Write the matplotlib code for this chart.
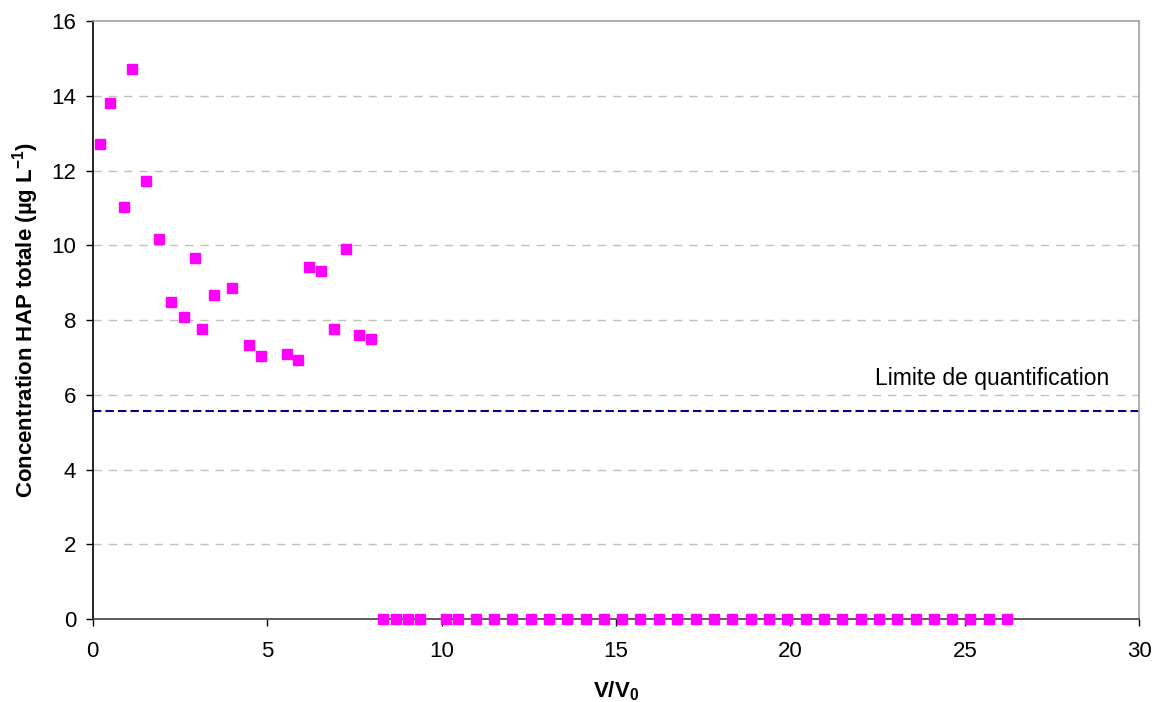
import matplotlib
matplotlib.use("Agg")
import matplotlib.pyplot as plt

plt.rcParams['font.family'] = ['Liberation Sans', 'DejaVu Sans']
plt.rcParams['mathtext.fontset'] = 'custom'
plt.rcParams['mathtext.rm'] = 'Liberation Sans'
plt.rcParams['mathtext.bf'] = 'Liberation Sans:bold'
plt.rcParams['mathtext.it'] = 'Liberation Sans:italic'

# Data
v_ratio = [0.20, 0.50, 0.89, 1.135, 1.54, 1.90, 2.25, 2.61, 2.94, 3.13, 3.48, 3.99,
           4.49, 4.83, 5.56, 5.88, 6.20, 6.55, 6.91, 7.26, 7.62, 7.97,
           8.32, 8.69, 9.05, 9.39, 10.12, 10.46, 10.98, 11.50, 12.03, 12.55, 13.08,
           13.60, 14.13, 14.65, 15.18, 15.70, 16.23, 16.76, 17.28, 17.81, 18.33,
           18.86, 19.38, 19.91, 20.44, 20.96, 21.49, 22.01, 22.54, 23.06, 23.59,
           24.11, 24.64, 25.16, 25.69, 26.21]
concentration = [12.70, 13.82, 11.02, 14.71, 11.72, 10.16, 8.49, 8.07, 9.65, 7.75, 8.68, 8.86,
                 7.32, 7.04, 7.09, 6.93, 9.43, 9.30, 7.75, 9.90, 7.60, 7.49,
                 0, 0, 0, 0, 0, 0, 0, 0, 0, 0, 0,
                 0, 0, 0, 0, 0, 0, 0, 0, 0, 0,
                 0, 0, 0, 0, 0, 0, 0, 0, 0, 0,
                 0, 0, 0, 0, 0]
limit_quantification = 5.56
x_ticks = [0, 5, 10, 15, 20, 25, 30]
y_ticks = [0, 2, 4, 6, 8, 10, 12, 14, 16]
limit_label = "Limite de quantification"

FS = 16

fig = plt.figure(figsize=(11.56, 7.02), dpi=100)
ax = fig.add_axes([0.0802, 0.1182, 0.9054, 0.8518])

ax.set_xlim(0, 30)
ax.set_ylim(0, 16)
ax.set_xticks(x_ticks)
ax.set_yticks(y_ticks)

for y in y_ticks[1:-1]:
    ax.axhline(y, color='#c0c0c0', lw=1, ls=(0, (6, 5)), zorder=1)

ax.axhline(limit_quantification, color='#000080', lw=1.5, ls=(0, (4, 2)), zorder=2)
ax.text(22.42, 6.44, limit_label, fontsize=16.5, va='center', ha='left', color='black')

ax.plot(v_ratio, concentration, ls='none', marker='s', ms=7, color='#ff00ff',
        mec='#ff00ff', clip_on=False, zorder=5)

ax.spines['left'].set_color('black')
ax.spines['left'].set_linewidth(1.2)
ax.spines['bottom'].set_color('#404040')
ax.spines['bottom'].set_linewidth(1.2)
ax.spines['top'].set_color('#a0a0a0')
ax.spines['right'].set_color('#a0a0a0')
ax.spines['top'].set_linewidth(1.2)
ax.spines['right'].set_linewidth(1.2)

ax.tick_params(axis='both', direction='out', length=5, width=1, labelsize=FS, color='black')
ax.tick_params(axis='x', pad=11)
ax.tick_params(axis='y', pad=7)

ax.set_ylabel(r'Concentration HAP totale (µg L$^{\mathbf{-1}}$)', fontsize=FS,
              fontweight='bold', labelpad=7)
ax.set_xlabel(r'V/V$_{\mathbf{0}}$', fontsize=FS, fontweight='bold', labelpad=12)

fig.savefig('out.png', dpi=100)
